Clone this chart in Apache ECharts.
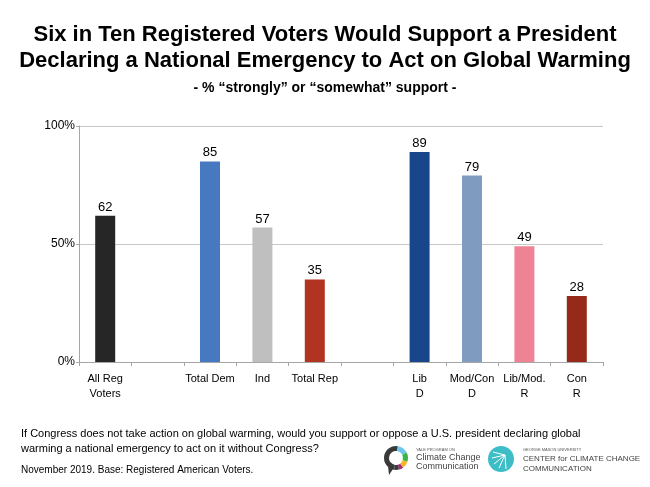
<!DOCTYPE html>
<html>
<head>
<meta charset="utf-8">
<script src="https://cdn.jsdelivr.net/npm/echarts@6/dist/echarts.min.js"></script>
<style>html,body{margin:0;padding:0;background:#fff;}#c{width:650px;height:487px;}</style>
</head>
<body>
<div id="c"></div>
<script>
var categories = ['All Reg\nVoters', '', 'Total Dem', 'Ind', 'Total Rep', '', 'Lib\nD', 'Mod/Con\nD', 'Lib/Mod.\nR', 'Con\nR'];
var supportValues = [62, null, 85, 57, 35, null, 89, 79, 49, 28];
var yTicks = [0, 50, 100];
var barColors = ['#262626', '#ffffff', '#4679BF', '#BFBFBF', '#B13322', '#ffffff', '#17478A', '#7F9BC0', '#EE8393', '#952A1B'];

var chart = echarts.init(document.getElementById('c'), null, {renderer: 'canvas'});
var FONT = 'Liberation Sans, Arial, sans-serif';
var option = {
  backgroundColor: '#ffffff',
  animation: false,
  title: [
    {text: 'Six in Ten Registered Voters Would Support a President\nDeclaring a National Emergency to Act on Global Warming',
     left: 'center', top: 17,
     textStyle: {fontFamily: FONT, fontSize: 22, fontWeight: 'bold', color: '#000', lineHeight: 26}},
    {text: '- % \u201cstrongly\u201d or \u201csomewhat\u201d support -',
     left: 'center', top: 76,
     textStyle: {fontFamily: FONT, fontSize: 14, fontWeight: 'bold', color: '#000'}}
  ],
  grid: {left: 79, right: 47, top: 126, bottom: 125, containLabel: false},
  xAxis: {
    type: 'category', data: categories,
    axisLine: {lineStyle: {color: '#A6A6A6', width: 1}},
    axisTick: {show: true, length: 4, lineStyle: {color: '#A6A6A6'}},
    axisLabel: {interval: 0, fontFamily: FONT, fontSize: 11, color: '#000', lineHeight: 15, margin: 9}
  },
  yAxis: {
    type: 'value', min: 0, max: 100, interval: 50,
    axisLine: {show: true, lineStyle: {color: '#A6A6A6'}},
    axisTick: {show: true, length: 3, lineStyle: {color: '#A6A6A6'}},
    axisLabel: {formatter: '{value}%', fontFamily: FONT, fontSize: 12, color: '#000', margin: 4},
    splitLine: {show: true, lineStyle: {color: '#C8C8C8', width: 1}}
  },
  series: [{
    type: 'bar', barWidth: 20,
    data: supportValues.map(function (v, i) {
      return {value: v, itemStyle: {color: barColors[i]}};
    }),
    label: {show: true, position: 'top', distance: 2, fontFamily: FONT, fontSize: 13, color: '#000'}
  }],
  graphic: [
    {type: 'text', left: 21, top: 426, style: {text: 'If Congress does not take action on global warming, would you support or oppose a U.S. president declaring global\nwarming a national emergency to act on it without Congress?', font: '11px ' + FONT, fill: '#000', lineHeight: 15}},
    {type: 'text', left: 21, top: 465, style: {text: 'November 2019. Base: Registered American Voters.', font: '10px ' + FONT, fill: '#000'}},
    // Yale logo ring
    {type: 'sector', shape: {cx: 396, cy: 458, r: 12, r0: 7, startAngle: Math.PI * 0.55, endAngle: Math.PI * 1.55}, style: {fill: '#3a3a3a'}},
    {type: 'sector', shape: {cx: 396, cy: 458, r: 12, r0: 7, startAngle: Math.PI * 1.55, endAngle: Math.PI * 1.85}, style: {fill: '#6EC6EA'}},
    {type: 'sector', shape: {cx: 396, cy: 458, r: 12, r0: 7, startAngle: Math.PI * 1.85, endAngle: Math.PI * 2.1}, style: {fill: '#3BB44A'}},
    {type: 'sector', shape: {cx: 396, cy: 458, r: 12, r0: 7, startAngle: Math.PI * 0.1, endAngle: Math.PI * 0.3}, style: {fill: '#F4B520'}},
    {type: 'sector', shape: {cx: 396, cy: 458, r: 12, r0: 7, startAngle: Math.PI * 0.3, endAngle: Math.PI * 0.42}, style: {fill: '#A2297B'}},
    {type: 'sector', shape: {cx: 396, cy: 458, r: 12, r0: 7, startAngle: Math.PI * 0.42, endAngle: Math.PI * 0.55}, style: {fill: '#3a3a3a'}},
    {type: 'polygon', shape: {points: [[388, 466], [393, 469], [389, 475]]}, style: {fill: '#3a3a3a'}},
    {type: 'text', left: 416, top: 448, style: {text: 'YALE PROGRAM ON', font: '4px ' + FONT, fill: '#555'}},
    {type: 'text', left: 416, top: 453, style: {text: 'Climate Change\nCommunication', font: '9px ' + FONT, fill: '#444', lineHeight: 9}},
    // GMU logo
    {type: 'circle', shape: {cx: 501, cy: 459, r: 13}, style: {fill: '#3DBDC6'}},
    {type: 'line', shape: {x1: 505, y1: 455, x2: 493, y2: 452}, style: {stroke: '#fff', lineWidth: 1}},
    {type: 'line', shape: {x1: 505, y1: 455, x2: 492, y2: 458}, style: {stroke: '#fff', lineWidth: 1}},
    {type: 'line', shape: {x1: 505, y1: 455, x2: 494, y2: 464}, style: {stroke: '#fff', lineWidth: 1}},
    {type: 'line', shape: {x1: 505, y1: 455, x2: 499, y2: 468}, style: {stroke: '#fff', lineWidth: 1}},
    {type: 'line', shape: {x1: 505, y1: 455, x2: 506, y2: 469}, style: {stroke: '#fff', lineWidth: 1}},
    {type: 'text', left: 523, top: 448, style: {text: 'GEORGE MASON UNIVERSITY', font: '4px ' + FONT, fill: '#555'}},
    {type: 'text', left: 523, top: 454, style: {text: 'CENTER for CLIMATE CHANGE\nCOMMUNICATION', font: '8px ' + FONT, fill: '#444', lineHeight: 10}}
  ]
};
chart.setOption(option);
</script>
</body>
</html>
